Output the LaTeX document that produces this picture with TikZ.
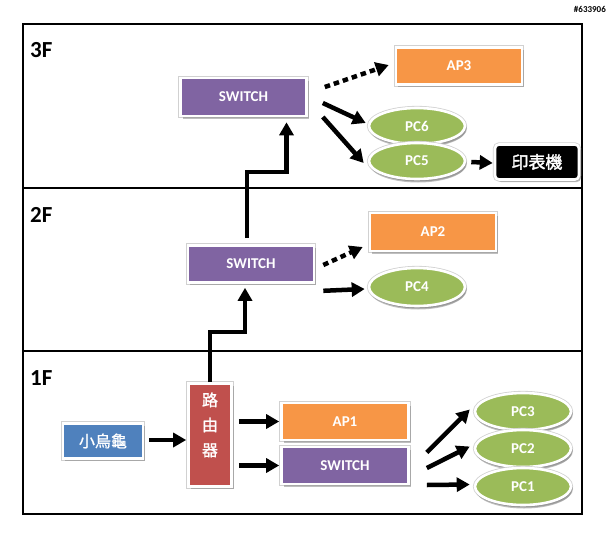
\documentclass[tikz,border=0pt]{standalone}
\usepackage{fontspec}
\setmainfont{Carlito}
\newfontfamily\cjk[AutoFakeBold=1.2]{Noto Sans CJK TC}
\newfontfamily\cjkb[AutoFakeBold=2]{Noto Sans CJK TC}
\usetikzlibrary{arrows.meta,shapes.geometric,shadows,calc}
\definecolor{cPurple}{HTML}{8064A2}
\definecolor{cOrange}{HTML}{F79646}
\definecolor{cBlue}{HTML}{4F81BD}
\definecolor{cRed}{HTML}{C0504D}
\definecolor{cGreen}{HTML}{9BBB59}
\begin{document}
\begin{tikzpicture}[x=1pt,y=-1pt,
  base/.style={draw=white, line width=2.6pt, text=white, inner sep=0pt,
    font=\bfseries\fontsize{15}{15}\selectfont,
    preaction={draw=black!18, line width=4.2pt},
    drop shadow={shadow xshift=2pt, shadow yshift=-2.5pt, fill=black!50, opacity=.5}},
  box/.style={base, rectangle, fill=#1},
  pc/.style={base, ellipse, fill=cGreen, minimum width=96pt, minimum height=37pt,
    drop shadow={shadow xshift=1pt, shadow yshift=-3.5pt, fill=black!50, opacity=.5}},
  floor/.style={font=\bfseries\fontsize{23}{23}\selectfont, anchor=base west, inner sep=0pt},
  arr/.style={line width=4.5pt, -{Triangle[length=13pt,width=14pt]}},
  dotarr/.style={arr, dash pattern=on 5.5pt off 4pt},
  frame/.style={line width=1.1pt}
]
\useasboundingbox (0,0) rectangle (610,538);

% frame
\draw[frame] (23,24) rectangle (582,514);
\draw[frame] (23,188) -- (582,188);
\draw[frame] (23,351) -- (582,351);

\node[anchor=east, inner sep=0pt, font=\bfseries\fontsize{9}{9}\selectfont] (tag) at (606,9) {\#633906};

\node[floor] (f3) at (30,57) {3F};
\node[floor] (f2) at (30,222) {2F};
\node[floor] (f1) at (30,385) {1F};

% 3F
\node[box=cPurple, minimum width=126pt, minimum height=38pt] (sw3) at (243.5,97) {SWITCH};
\node[box=cOrange, minimum width=126pt, minimum height=37pt] (ap3) at (459,66) {AP3};
\node[pc, minimum height=36pt] (pc6) at (417,126) {PC6};
\node[pc, minimum height=36pt] (pc5) at (417,161) {PC5};
\node[box=black, rounded corners=4pt, minimum width=84pt, minimum height=35pt,
  font=\cjkb\bfseries\fontsize{17}{17}\selectfont] (prn) at (537,162) {印表機};

% 2F
\node[box=cPurple, minimum width=126pt, minimum height=37pt] (sw2) at (251,264) {SWITCH};
\node[box=cOrange, minimum width=126pt, minimum height=38pt] (ap2) at (433,232) {AP2};
\node[pc, minimum height=38pt] (pc4) at (417,287) {PC4};

% 1F
\node[box=cBlue, minimum width=80pt, minimum height=35pt,
  font=\cjk\bfseries\fontsize{16}{16}\selectfont] (turtle) at (103,441) {小烏龜};
\node[box=cRed, minimum width=43pt, minimum height=103pt,
  font=\cjk\bfseries\fontsize{16}{25}\selectfont] (router) at (210,435)
  {\raisebox{9pt}[\height][\depth]{\begin{tabular}{@{}c@{}}路\\由\\器\end{tabular}}};
\node[box=cOrange, minimum width=127pt, minimum height=37pt] (ap1) at (345,421.5) {AP1};
\node[box=cPurple, minimum width=127pt, minimum height=37pt] (sw1) at (345,465.5) {SWITCH};
\node[pc] (pc3) at (523,411.5) {PC3};
\node[pc] (pc2) at (523,448.5) {PC2};
\node[pc] (pc1) at (523,486.5) {PC1};

% connectors 3F
\draw[dotarr] ($(sw3.east)+(17,-10)$) -- ($(ap3.west)+(-6,-1)$);
\draw[arr] ($(sw3.east)+(15,6)$) -- ($(pc6.west)+(-2,-3)$);
\draw[arr] ($(sw3.east)+(15,20)$) -- ($(pc5.west)+(-4,2)$);
\draw[arr] ($(pc5.east)+(5,1)$) -- ($(prn.west)+(-1,1)$);

% connectors 2F
\draw[dotarr] ($(sw2.east)+(8,1)$) -- ($(ap2.west)+(-6,15)$);
\draw[arr] ($(sw2.south east)+(8,7)$) -- ($(pc4.west)+(-3,2)$);

% connectors 1F
\draw[arr] ($(turtle.east)+(5,-1)$) -- ($(router.west)+(-1,5)$);
\draw[arr] ($(router.east |- ap1.west)+(6,0)$) -- ($(ap1.west)+(-1,0)$);
\draw[arr] ($(router.east |- sw1.west)+(6,0)$) -- ($(sw1.west)+(-1,0)$);
\draw[arr] ($(sw1.east)+(17,-13)$) -- ($(pc3.west)+(-4,-2)$);
\draw[arr] ($(sw1.east)+(17,2.5)$) -- ($(pc2.west)+(-4,-2)$);
\draw[arr] ($(sw1.east)+(17,19.5)$) -- ($(pc1.west)+(-4,-2)$);

% vertical links
\draw[arr] (router.north) -- ++(0,-50) -| ($(sw2.south)+(-6,4)$);
\draw[arr] ($(sw2.north)+(-4,-6)$) -- ++(0,-66) -| ($(sw3.south)+(43,5)$);
\end{tikzpicture}
\end{document}
